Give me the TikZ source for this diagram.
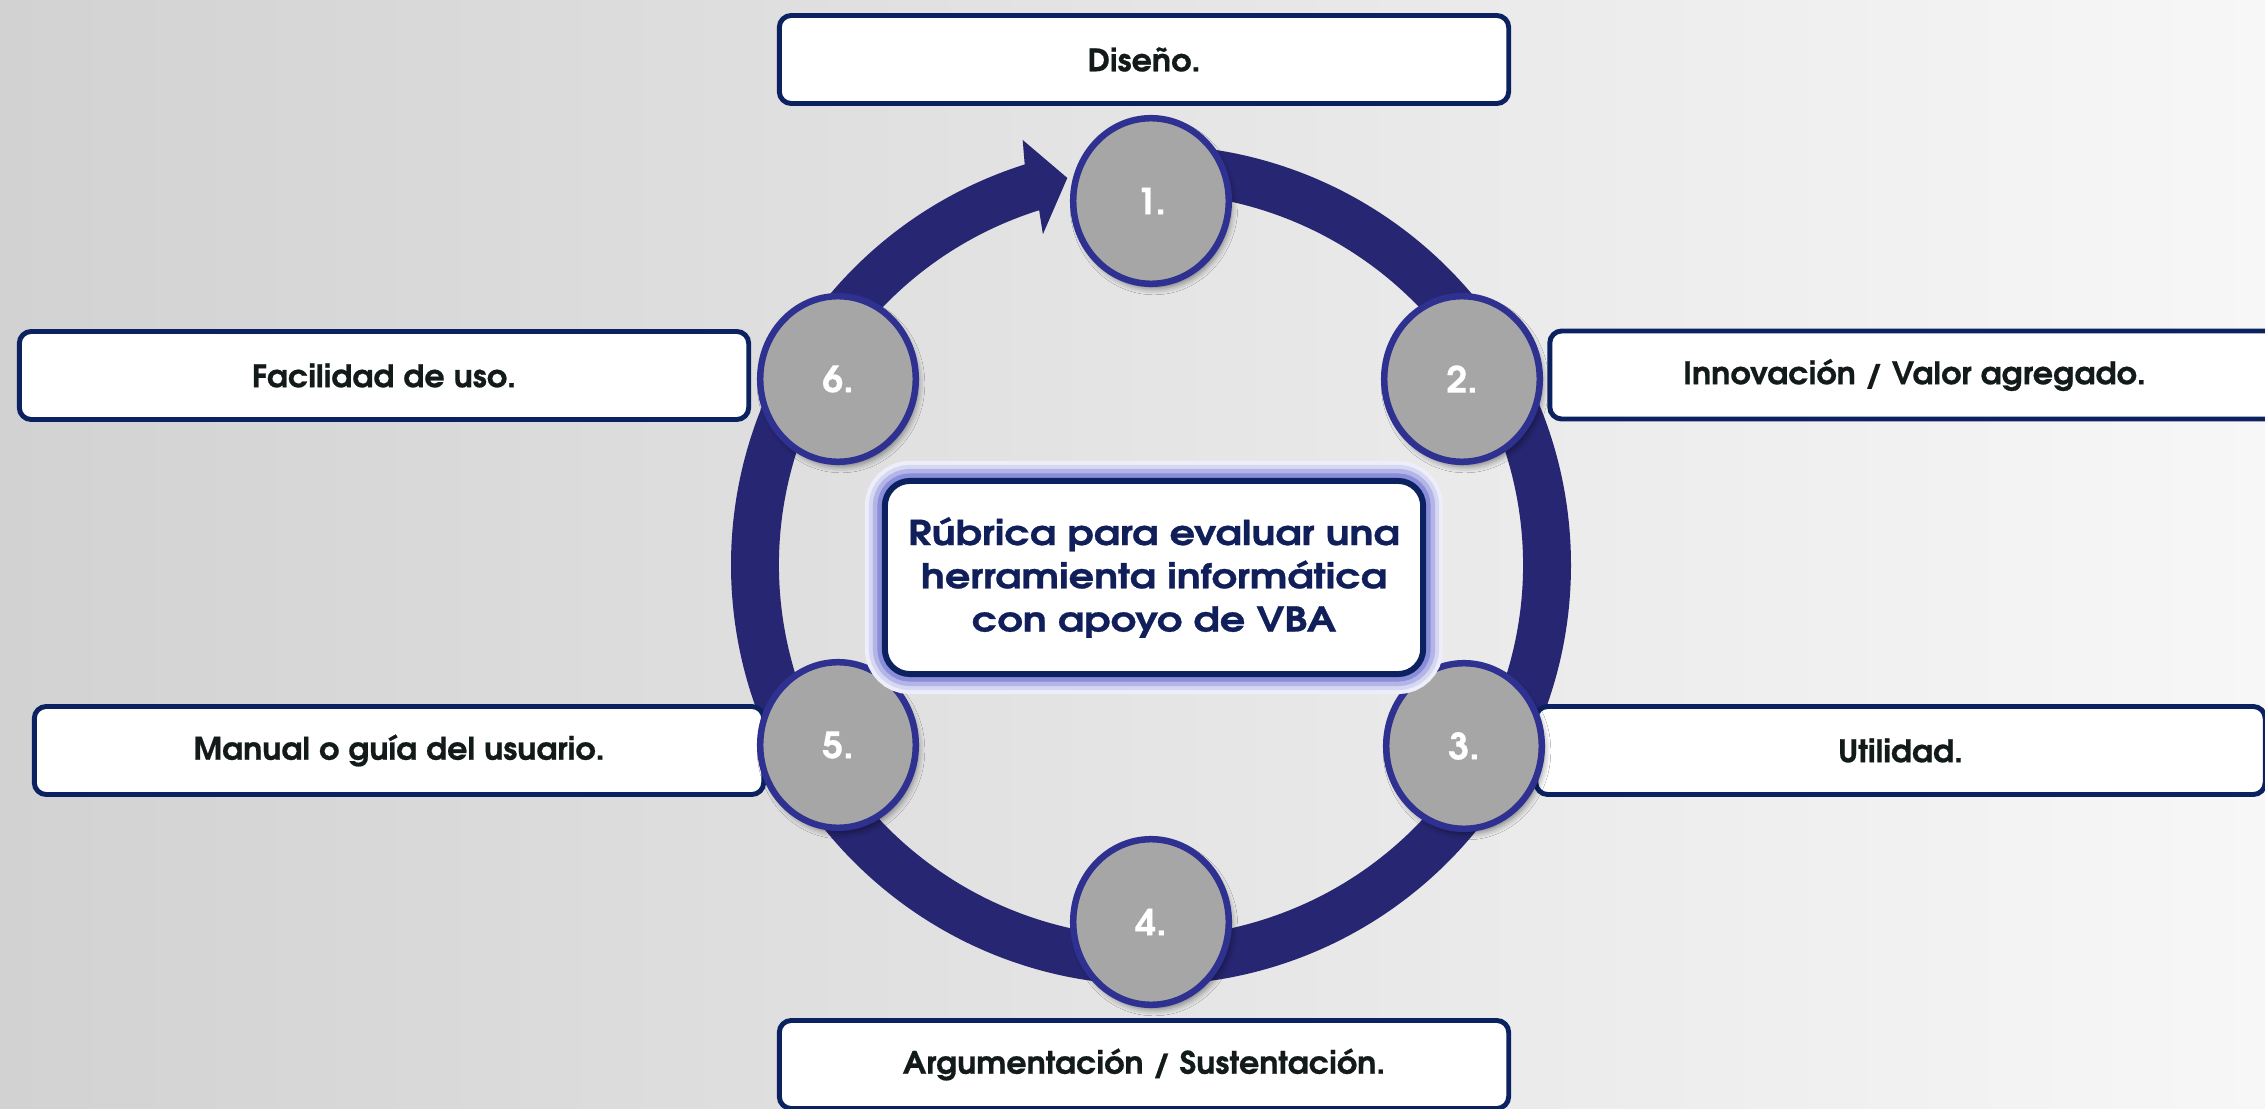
\documentclass[tikz,border=0pt]{standalone}
\usepackage{fontspec}
\setmainfont{texgyreadventor}[Extension=.otf, UprightFont=*-regular, BoldFont=*-bold, BoldFeatures={FakeBold=0.6, FakeStretch=1.03}]
\newfontfamily\titlefont{texgyreadventor}[Extension=.otf, UprightFont=*-bold, BoldFont=*-bold, UprightFeatures={FakeBold=0.8, FakeStretch=1.17}, BoldFeatures={FakeBold=0.8, FakeStretch=1.17}]
\usetikzlibrary{shapes.geometric,shadows.blur}
\definecolor{ringc}{HTML}{272672}
\definecolor{circb}{HTML}{2E3190}
\definecolor{circf}{HTML}{A6A6A6}
\definecolor{boxb}{HTML}{0B2160}
\definecolor{labtxt}{HTML}{131B1A}
\definecolor{titletxt}{HTML}{101E5A}
\definecolor{glowc}{HTML}{8A8DDA}
\definecolor{bgl}{HTML}{D2D2D2}
\definecolor{bgr}{HTML}{F7F7F7}
\begin{document}
\begin{tikzpicture}[x=0.01cm,y=0.01cm,
  numcirc/.style={ellipse, draw=circb, line width=1.85pt, fill=circf,
    minimum width=1.555cm, minimum height=1.655cm, inner sep=0pt,
    text=white, font=\bfseries\fontsize{10.3}{12}\selectfont,
    blur shadow={shadow xshift=0.03cm, shadow yshift=-0.05cm, shadow blur radius=0.06cm, shadow opacity=45}},
  labelbox/.style={rectangle, rounded corners=0.12cm, draw=boxb, line width=1.4pt, fill=white,
    minimum width=7.29cm, minimum height=0.88cm, inner sep=0pt,
    text=labtxt, font=\bfseries\fontsize{8.8}{10}\selectfont},
  titlebox/.style={rectangle, rounded corners=0.25cm, draw=boxb, line width=1.7pt, fill=white,
    minimum width=5.38cm, minimum height=1.93cm, inner sep=0pt, align=center,
    text=titletxt, font=\titlefont\fontsize{9.7}{12.3}\selectfont,
    preaction={draw=glowc!15, line width=0.40cm},
    preaction={draw=glowc!35, line width=0.32cm},
    preaction={draw=glowc!65, line width=0.24cm},
    preaction={draw=glowc, line width=0.15cm}},
]
\useasboundingbox (0,0) rectangle (2265,1108);
\shade[left color=bgl, right color=bgr] (0,0) rectangle (2265,1108);

% ring with arrow
\begin{scope}[shift={(1151,543)}]
\fill[ringc] (92:420) arc[start angle=92, end angle=-252.5, radius=420]
  -- (-253.2:444) -- (-257.8:396) -- (-251.9:348) -- (-252.5:372)
  arc[start angle=-252.5, end angle=92, radius=372] -- cycle;
\end{scope}

% label boxes
\node[labelbox] (b1) at (1144,1048.5) {Diseño.};
\node[labelbox] (b2) at (1914.5,733) {Innovación / Valor agregado.};
\node[labelbox] (b3) at (1900.5,357.5) {Utilidad.};
\node[labelbox] (b4) at (1144,43.5) {Argumentación / Sustentación.};
\node[labelbox] (b5) at (399,357.5) {Manual o guía del usuario.};
\node[labelbox] (b6) at (384,732.5) {Facilidad de uso.};

% numbered circles
\node[numcirc] (c1) at (1151,907) {1.};
\node[numcirc] (c2) at (1462,729) {2.};
\node[numcirc] (c3) at (1464,362) {3.};
\node[numcirc] (c4) at (1151,186) {4.};
\node[numcirc] (c5) at (838,363) {5.};
\node[numcirc] (c6) at (838,729) {6.};

% centre title
\node[titlebox] (title) at (1154,530.5) {Rúbrica para evaluar una\\herramienta informática\\con apoyo de VBA};
\end{tikzpicture}
\end{document}
